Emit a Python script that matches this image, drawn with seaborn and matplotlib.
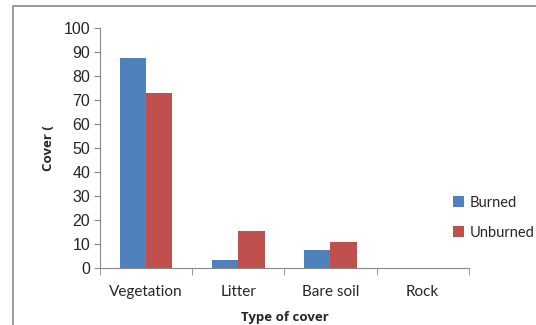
import matplotlib
matplotlib.use("Agg")
import matplotlib.pyplot as plt
import seaborn as sns
import pandas as pd
from matplotlib.patches import Rectangle

categories = ["Vegetation", "Litter", "Bare soil", "Rock"]
burned = [87.5, 3.3, 7.5, 0]
unburned = [72.8, 15.5, 10.7, 0]
series = ["Burned", "Unburned"]
colors = ["#4F81BD", "#C0504D"]

df = pd.DataFrame({
    "cover": categories * 2,
    "value": burned + unburned,
    "treatment": [series[0]] * 4 + [series[1]] * 4,
})

sns.set_style("white")
fig = plt.figure(figsize=(5.36, 3.25), dpi=100)
ax = fig.add_axes([0.1866, 0.1754, 0.688, 0.7384])

sns.barplot(data=df, x="cover", y="value", hue="treatment", palette=colors,
            width=0.57, gap=0, saturation=1, linewidth=0, ax=ax, legend=True)

ax.set_xlim(-0.5, 3.5)
ax.set_ylim(0, 100)
ax.set_yticks(range(0, 101, 10))
ax.tick_params(axis="y", labelsize=11.5, length=4, color="#888888", pad=3, direction="out", left=True)
for lab in ax.get_yticklabels():
    lab.set_fontfamily("Liberation Sans")
ax.set_xticks(range(4))
ax.set_xticklabels(categories, fontfamily="Lato", fontsize=11)
ax.tick_params(axis="x", length=0, pad=12)
ax.set_xticks([-0.5, 0.5, 1.5, 2.5, 3.5], minor=True)
ax.tick_params(axis="x", which="minor", length=5, color="#888888", direction="out", bottom=True)

for s in ["top", "right"]:
    ax.spines[s].set_visible(False)
for s in ["left", "bottom"]:
    ax.spines[s].set_color("#888888")
    ax.spines[s].set_linewidth(0.8)

ax.set_ylabel("Cover (", fontfamily="Open Sans", fontweight="bold", fontsize=9.5, labelpad=6)
ax.set_xlabel("Type of cover", fontfamily="Open Sans", fontweight="bold", fontsize=9.5, labelpad=9)

leg = ax.legend(loc="center left", bbox_to_anchor=(0.82, 0.33), bbox_transform=fig.transFigure,
                frameon=False, handlelength=0.75, handleheight=0.75, handletextpad=0.4,
                labelspacing=1.1, prop={"family": "Lato", "size": 10.5})

fig.patches.append(Rectangle((13 / 536, -0.05), 1.2, 1 - 6 / 325 + 0.05,
                             transform=fig.transFigure, fill=False,
                             edgecolor="#888888", linewidth=1.2))

fig.savefig("out.png", dpi=100)
